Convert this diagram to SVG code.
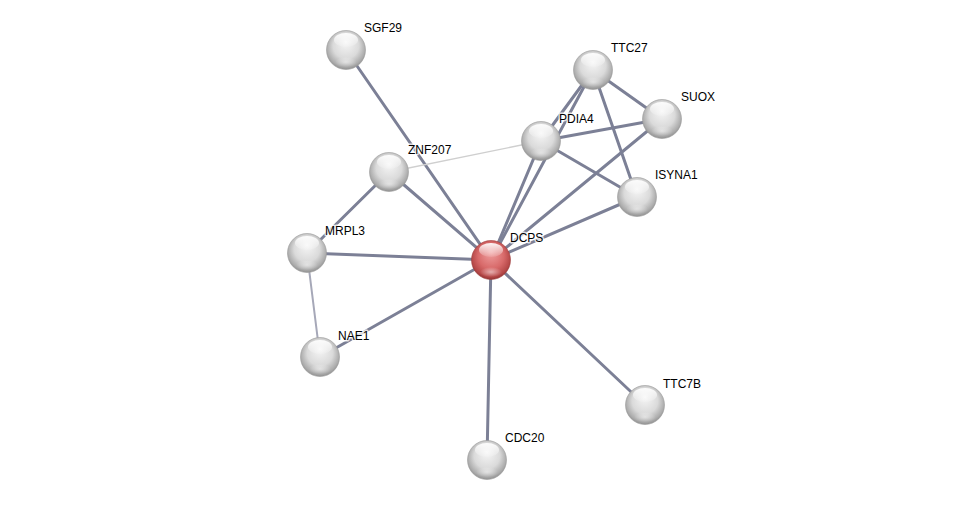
<svg xmlns="http://www.w3.org/2000/svg" width="975" height="506" viewBox="0 0 975 506">
<defs>
<radialGradient id="gw" cx="0.5" cy="0.45" r="0.55" fx="0.5" fy="0.3">
<stop offset="0" stop-color="#f6f6f6"/>
<stop offset="0.6" stop-color="#dadada"/>
<stop offset="0.9" stop-color="#ababab"/>
<stop offset="1" stop-color="#909090"/>
</radialGradient>
<radialGradient id="gr" cx="0.5" cy="0.45" r="0.55" fx="0.5" fy="0.3">
<stop offset="0" stop-color="#f0a0a0"/>
<stop offset="0.6" stop-color="#d86a6a"/>
<stop offset="0.9" stop-color="#b54848"/>
<stop offset="1" stop-color="#933434"/>
</radialGradient>
<linearGradient id="hl" x1="0" y1="0" x2="0" y2="1">
<stop offset="0" stop-color="#fff" stop-opacity="0.95"/>
<stop offset="1" stop-color="#fff" stop-opacity="0.1"/>
</linearGradient>
<radialGradient id="bl" cx="0.5" cy="0.5" r="0.5">
<stop offset="0" stop-color="#fff" stop-opacity="0.5"/>
<stop offset="1" stop-color="#fff" stop-opacity="0"/>
</radialGradient>
</defs>
<style>
.e{stroke:#7c8096;stroke-width:3;fill:none;stroke-linecap:round}
.m{stroke:#a6a8b8;stroke-width:2}
.l{stroke:#cfcfcf;stroke-width:1.3}
.n{fill:url(#gw);stroke:#9a9a9a;stroke-width:0.6}
.r{fill:url(#gr);stroke:#a04040;stroke-width:0.6}
.h{fill:url(#hl)}
.b{fill:url(#bl)}
text{font-family:"Liberation Sans",Arial,sans-serif;font-size:12px;fill:#000;stroke:#fff;stroke-opacity:0.75;stroke-width:3;paint-order:stroke;stroke-linejoin:round}
</style>
<rect width="975" height="506" fill="#fff"/>
<g id="connectors">
<line class="e" x1="491" y1="260" x2="346" y2="50"/>
<line class="e" x1="491" y1="260" x2="389" y2="172"/>
<line class="e" x1="491" y1="260" x2="307" y2="253"/>
<line class="e" x1="491" y1="260" x2="320" y2="357"/>
<line class="e" x1="491" y1="260" x2="487" y2="460"/>
<line class="e" x1="491" y1="260" x2="645" y2="405"/>
<line class="e" x1="491" y1="260" x2="637" y2="197"/>
<line class="e" x1="491" y1="260" x2="662" y2="119"/>
<line class="e" x1="491" y1="260" x2="541" y2="141"/>
<line class="e" x1="491" y1="260" x2="593" y2="70"/>
<line class="e" x1="389" y1="172" x2="307" y2="253"/>
<line class="e l" x1="389" y1="172" x2="541" y2="141"/>
<line class="e m" x1="307" y1="253" x2="320" y2="357"/>
<line class="e" x1="541" y1="141" x2="593" y2="70"/>
<line class="e" x1="541" y1="141" x2="662" y2="119"/>
<line class="e" x1="541" y1="141" x2="637" y2="197"/>
<line class="e" x1="593" y1="70" x2="662" y2="119"/>
<line class="e" x1="593" y1="70" x2="637" y2="197"/>
</g>
<g id="SGF29"><circle class="n" cx="346" cy="50" r="19.5"/><ellipse class="h" cx="346" cy="40" rx="12" ry="7"/><ellipse class="b" cx="346" cy="62" rx="11" ry="5"/><text x="364" y="32">SGF29</text></g>
<g id="TTC27"><circle class="n" cx="593" cy="70" r="19.5"/><ellipse class="h" cx="593" cy="60" rx="12" ry="7"/><ellipse class="b" cx="593" cy="82" rx="11" ry="5"/><text x="611" y="52">TTC27</text></g>
<g id="SUOX"><circle class="n" cx="662" cy="119" r="19.5"/><ellipse class="h" cx="662" cy="109" rx="12" ry="7"/><ellipse class="b" cx="662" cy="131" rx="11" ry="5"/><text x="681" y="101">SUOX</text></g>
<g id="PDIA4"><circle class="n" cx="541" cy="141" r="19.5"/><ellipse class="h" cx="541" cy="131" rx="12" ry="7"/><ellipse class="b" cx="541" cy="153" rx="11" ry="5"/><text x="559" y="123">PDIA4</text></g>
<g id="ZNF207"><circle class="n" cx="389" cy="172" r="19.5"/><ellipse class="h" cx="389" cy="162" rx="12" ry="7"/><ellipse class="b" cx="389" cy="184" rx="11" ry="5"/><text x="408" y="154">ZNF207</text></g>
<g id="ISYNA1"><circle class="n" cx="637" cy="197" r="19.5"/><ellipse class="h" cx="637" cy="187" rx="12" ry="7"/><ellipse class="b" cx="637" cy="209" rx="11" ry="5"/><text x="655" y="179">ISYNA1</text></g>
<g id="MRPL3"><circle class="n" cx="307" cy="253" r="19.5"/><ellipse class="h" cx="307" cy="243" rx="12" ry="7"/><ellipse class="b" cx="307" cy="265" rx="11" ry="5"/><text x="325" y="235">MRPL3</text></g>
<g id="DCPS"><circle class="r" cx="491" cy="260" r="19.5"/><ellipse class="h" cx="491" cy="250" rx="12" ry="7"/><ellipse class="b" cx="491" cy="272" rx="11" ry="5"/><text x="510" y="242">DCPS</text></g>
<g id="NAE1"><circle class="n" cx="320" cy="357" r="19.5"/><ellipse class="h" cx="320" cy="347" rx="12" ry="7"/><ellipse class="b" cx="320" cy="369" rx="11" ry="5"/><text x="338" y="340">NAE1</text></g>
<g id="TTC7B"><circle class="n" cx="645" cy="405" r="19.5"/><ellipse class="h" cx="645" cy="395" rx="12" ry="7"/><ellipse class="b" cx="645" cy="417" rx="11" ry="5"/><text x="663" y="388">TTC7B</text></g>
<g id="CDC20"><circle class="n" cx="487" cy="460" r="19.5"/><ellipse class="h" cx="487" cy="450" rx="12" ry="7"/><ellipse class="b" cx="487" cy="472" rx="11" ry="5"/><text x="505" y="442">CDC20</text></g>
</svg>
